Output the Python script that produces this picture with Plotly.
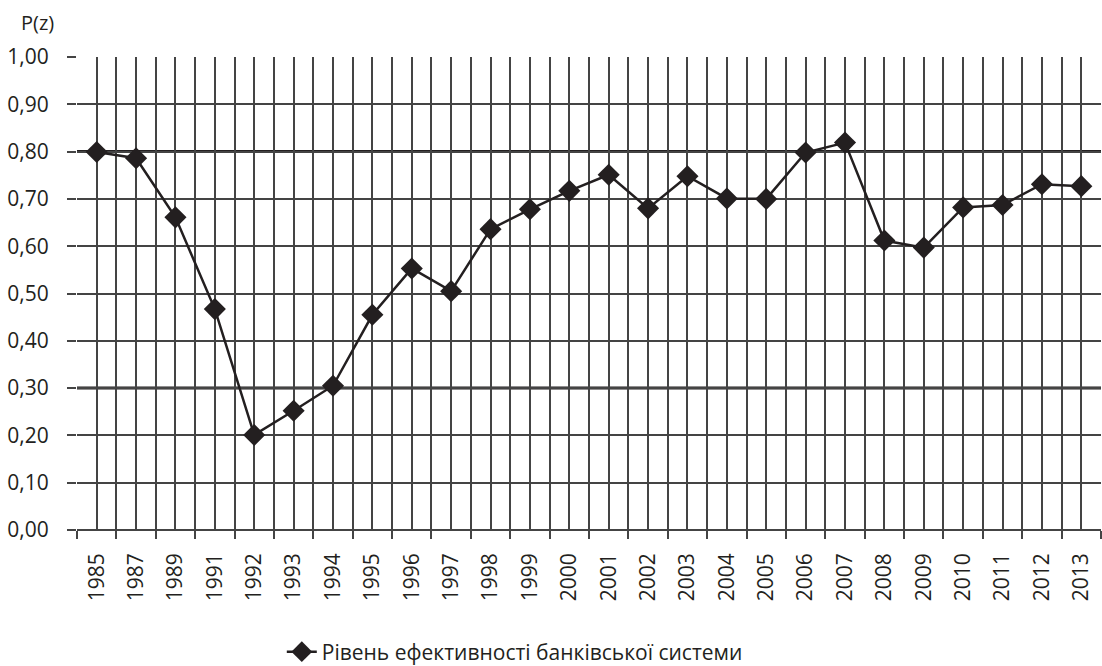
import plotly.graph_objects as go

years = ["1985", "1987", "1989", "1991", "1992", "1993", "1994", "1995", "1996",
         "1997", "1998", "1999", "2000", "2001", "2002", "2003", "2004", "2005",
         "2006", "2007", "2008", "2009", "2010", "2011", "2012", "2013"]
efficiency = [0.799, 0.786, 0.661, 0.467, 0.201, 0.252, 0.305, 0.455, 0.553,
              0.505, 0.636, 0.678, 0.717, 0.751, 0.680, 0.748, 0.701, 0.700,
              0.798, 0.819, 0.612, 0.597, 0.682, 0.687, 0.731, 0.727]
series_name = "Рівень ефективності банківської системи"
y_title = "P(z)"
emphasised_levels = [0.8, 0.3]

positions = list(range(len(years)))
INK = "#231f20"
GRID = "#444444"
FONT = "Open Sans"
FS = 21

fig = go.Figure()
fig.add_trace(go.Scatter(
    x=positions, y=efficiency, mode="lines+markers", name=series_name,
    line=dict(color=INK, width=2.5),
    marker=dict(symbol="diamond", size=17, color=INK),
))

for lvl in emphasised_levels:
    fig.add_shape(type="line", xref="paper", yref="y", x0=0, x1=1, y0=lvl, y1=lvl,
                  line=dict(color=INK, width=3), layer="below")

fig.add_annotation(text=y_title, xref="paper", yref="paper", x=0, y=1,
                   xanchor="left", yanchor="middle", xshift=-58, yshift=35,
                   showarrow=False, font=dict(family=FONT, size=FS - 1, color=INK))

fig.update_layout(
    width=1102, height=666,
    margin=dict(l=77, r=1, t=57, b=136, autoexpand=False),
    paper_bgcolor="white", plot_bgcolor="white",
    separators=", ",
    font=dict(family=FONT, size=FS, color=INK),
    showlegend=True,
    legend=dict(orientation="h", x=0.2, xanchor="left", y=-0.258, yanchor="middle",
                font=dict(family=FONT, size=FS, color=INK), bgcolor="rgba(0,0,0,0)"),
    xaxis=dict(
        range=[-0.5, len(years) - 0.5], automargin=False,
        tickmode="array", tickvals=positions, ticktext=years,
        tickangle=-90, ticks="", ticklabelstandoff=18,
        showgrid=True, gridcolor=GRID, gridwidth=1.6,
        zeroline=False, showline=False,
        minor=dict(tick0=-0.5, dtick=1, ticks="outside", ticklen=8,
                   tickcolor=GRID, tickwidth=1.6,
                   showgrid=True, gridcolor=GRID, gridwidth=1.6),
        tickfont=dict(family=FONT, size=FS, color=INK),
    ),
    yaxis=dict(
        range=[0, 1], dtick=0.1, tick0=0, tickformat=".2f", automargin=False,
        ticks="outside", ticklen=9, tickcolor=GRID, tickwidth=1.6,
        showgrid=True, gridcolor=GRID, gridwidth=1.6,
        zeroline=True, zerolinecolor=GRID, zerolinewidth=1.6,
        showline=False, ticklabelstandoff=14,
        tickfont=dict(family=FONT, size=FS, color=INK),
    ),
)

fig.write_html("out.html", config={"displayModeBar": False},
               post_script="document.body.style.margin='0';document.body.style.overflow='hidden';")
